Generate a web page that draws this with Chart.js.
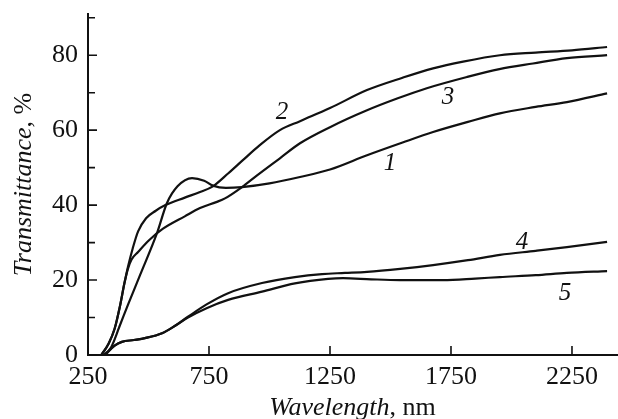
<!DOCTYPE html>
<html>
<head>
<meta charset="utf-8">
<script src="https://cdn.jsdelivr.net/npm/chart.js@4.4.1/dist/chart.umd.min.js"></script>
<style>
  html, body { margin: 0; padding: 0; background: #fff; }
  #wrap { width: 618px; height: 419px; position: relative; }
</style>
</head>
<body>
<div id="wrap"><canvas id="trans"></canvas></div>
<script>
// curve 1 (hump near 680 nm)
const wl1 = [315, 345, 380, 415, 465, 535, 576, 620, 680, 730, 766, 820, 886, 1000, 1126, 1250, 1403, 1550, 1676, 1820, 1952, 2100, 2229, 2395];
const tr1 = [0, 2, 7.6, 13.4, 21.3, 32.5, 40.5, 45, 47.2, 46.5, 45.2, 44.6, 44.8, 45.8, 47.5, 49.5, 53.3, 56.7, 59.5, 62.2, 64.5, 66.2, 67.5, 69.8];

// curve 2 (top)
const wl2 = [305, 335, 360, 382, 400, 415, 435, 457, 490, 530, 570, 650, 713, 766, 830, 890, 960, 1043, 1126, 1250, 1403, 1550, 1676, 1800, 1952, 2100, 2250, 2395];
const tr2 = [0, 3, 7, 13, 19, 23.5, 28.5, 33, 36.5, 38.5, 40, 42, 43.5, 45, 48.5, 52, 56, 60, 62.4, 65.9, 70.7, 74, 76.5, 78.3, 80, 80.7, 81.3, 82.2];

// curve 3
const wl3 = [305, 335, 360, 382, 400, 415, 430, 457, 500, 560, 650, 713, 780, 816, 886, 950, 1043, 1126, 1250, 1403, 1530, 1650, 1816, 1950, 2089, 2229, 2395];
const tr3 = [0, 3, 7, 13, 19, 23, 25.5, 27.5, 30.5, 33.7, 37, 39.2, 40.8, 41.8, 44.8, 48, 52.5, 56.5, 60.8, 65.3, 68.5, 71.2, 74.2, 76.3, 77.8, 79.2, 80];

// curve 4
const wl4 = [320, 360, 390, 440, 485, 556, 610, 663, 740, 829, 969, 1105, 1217, 1312, 1403, 1540, 1676, 1820, 1952, 2100, 2229, 2395];
const tr4 = [0, 2.5, 3.5, 4, 4.5, 5.8, 7.8, 10.2, 13.5, 16.5, 19.2, 20.8, 21.6, 21.9, 22.2, 23, 24, 25.3, 26.7, 27.8, 28.8, 30.2];

// curve 5
const wl5 = [320, 360, 390, 440, 485, 556, 610, 663, 740, 829, 969, 1105, 1242, 1304, 1420, 1539, 1717, 1850, 1952, 2100, 2229, 2395];
const tr5 = [0, 2.5, 3.5, 4, 4.5, 5.8, 7.8, 10, 12.5, 14.7, 16.9, 19.1, 20.3, 20.5, 20.2, 20, 20, 20.4, 20.8, 21.3, 21.9, 22.4];

// curve numbers, placed in data coordinates
const curveNames = ['1', '2', '3', '4', '5'];
const nameWl = [1498, 1052, 1738, 2043, 2221];
const nameTr = [51.2, 64.8, 68.8, 30.1, 16.5];

const xTicks = [250, 750, 1250, 1750, 2250];
const yTicks = [0, 20, 40, 60, 80];
const yMinor = [10, 30, 50, 70, 90];

const SERIF = '"Liberation Serif", "Times New Roman", serif';

function pts(xs, ys) {
    return xs.map((x, i) => ({ x: x, y: ys[i] }));
}

function curve(xs, ys) {
    return {
        data: pts(xs, ys),
        borderColor: '#111',
        borderWidth: 2.2,
        pointRadius: 0,
        fill: false,
        cubicInterpolationMode: 'monotone'
    };
}

// ticks inside the frame, axis titles and curve numbers
const extras = {
    id: 'extras',
    afterDraw(chart) {
        const ctx = chart.ctx;
        const xs = chart.scales.x, ys = chart.scales.y;
        const area = chart.chartArea;
        ctx.save();
        ctx.strokeStyle = '#111';
        ctx.lineWidth = 1.6;
        ctx.beginPath();
        xTicks.forEach(v => {
            const px = xs.getPixelForValue(v);
            ctx.moveTo(px, area.bottom);
            ctx.lineTo(px, area.bottom - 9);
        });
        yTicks.forEach(v => {
            const py = ys.getPixelForValue(v);
            ctx.moveTo(area.left, py);
            ctx.lineTo(area.left + 9, py);
        });
        yMinor.forEach(v => {
            const py = ys.getPixelForValue(v);
            ctx.moveTo(area.left, py);
            ctx.lineTo(area.left + 7, py);
        });
        ctx.stroke();

        ctx.fillStyle = '#111';
        ctx.textAlign = 'center';
        ctx.textBaseline = 'middle';
        ctx.font = 'italic 25px ' + SERIF;
        curveNames.forEach((n, i) => {
            ctx.fillText(n, xs.getPixelForValue(nameWl[i]), ys.getPixelForValue(nameTr[i]));
        });

        // x title: italic word + upright unit
        const it = 'italic 26px ' + SERIF, up = '26px ' + SERIF;
        ctx.textAlign = 'left';
        ctx.textBaseline = 'alphabetic';
        ctx.font = it;
        const w1 = ctx.measureText('Wavelength').width;
        ctx.font = up;
        const w2 = ctx.measureText(', nm').width;
        let sx = (area.left + area.right) / 2 - (w1 + w2) / 2;
        ctx.font = it;
        ctx.fillText('Wavelength', sx, 415);
        ctx.font = up;
        ctx.fillText(', nm', sx + w1, 415);

        // y title, rotated
        ctx.translate(31, (area.top + area.bottom) / 2);
        ctx.rotate(-Math.PI / 2);
        ctx.font = it;
        const h1 = ctx.measureText('Transmittance').width;
        ctx.font = up;
        const h2 = ctx.measureText(', %').width;
        sx = -(h1 + h2) / 2;
        ctx.font = it;
        ctx.fillText('Transmittance', sx, 0);
        ctx.font = up;
        ctx.fillText(', %', sx + h1, 0);
        ctx.restore();
    }
};

new Chart(document.getElementById('trans'), {
    type: 'line',
    data: {
        datasets: [curve(wl1, tr1), curve(wl2, tr2), curve(wl3, tr3), curve(wl4, tr4), curve(wl5, tr5)]
    },
    options: {
        responsive: true,
        maintainAspectRatio: false,
        animation: false,
        layout: { padding: { top: 14, right: 1, left: 0, bottom: 0 } },
        plugins: { legend: { display: false }, tooltip: { enabled: false } },
        scales: {
            x: {
                type: 'linear',
                min: 250,
                max: 2436,
                afterBuildTicks: s => { s.ticks = xTicks.map(v => ({ value: v })); },
                afterFit: s => { s.height = 64; },
                grid: { display: false, drawTicks: false },
                border: { color: '#111', width: 2 },
                ticks: {
                    color: '#111',
                    padding: 7,
                    maxRotation: 0,
                    autoSkip: false,
                    callback: v => String(v),
                    font: { family: SERIF, size: 26 }
                }
            },
            y: {
                min: 0,
                max: 91,
                afterBuildTicks: s => { s.ticks = yTicks.map(v => ({ value: v })); },
                afterFit: s => { s.width = 88; s.paddingTop = 0; s.paddingBottom = 0; },
                grid: { display: false, drawTicks: false },
                border: { color: '#111', width: 2 },
                ticks: {
                    color: '#111',
                    padding: 10,
                    font: { family: SERIF, size: 26 }
                }
            }
        }
    },
    plugins: [extras]
});
</script>
</body>
</html>
